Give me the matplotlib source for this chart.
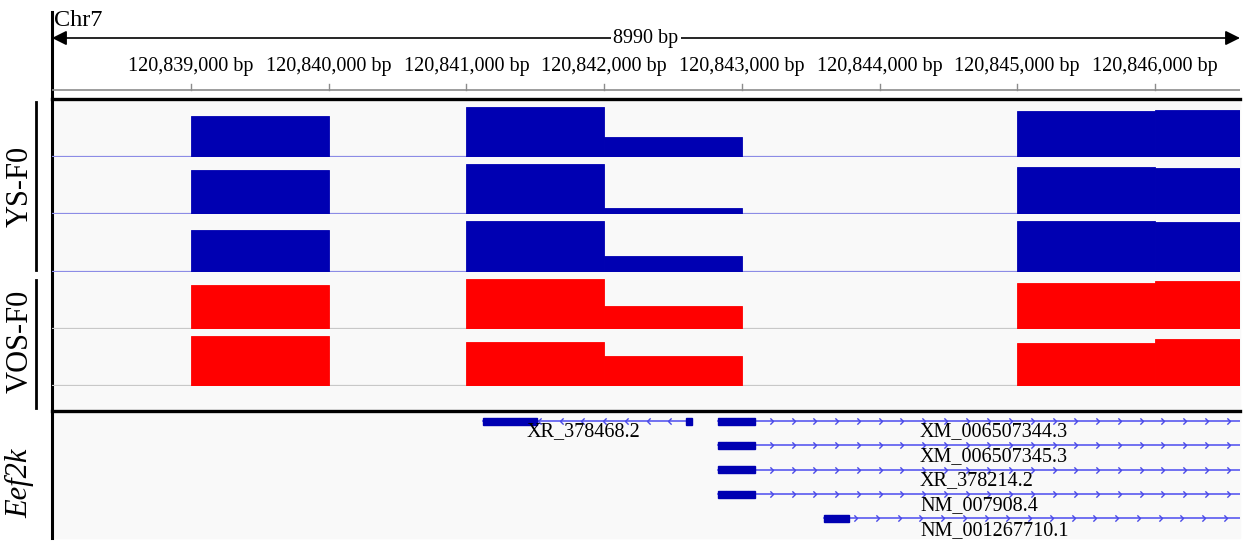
import numpy as np
import matplotlib
matplotlib.use("Agg")
import matplotlib.pyplot as plt
import matplotlib.path as mpath

plt.rcParams['font.family'] = ['Liberation Serif', 'DejaVu Serif']

W, H = 1246, 542

# genomic window (Chr7)
chrom = 'Chr7'
view_start = 120837990
view_end = 120846618
span_label = '8990 bp'
tick_pos = [120839000, 120840000, 120841000, 120842000,
            120843000, 120844000, 120845000, 120846000]
tick_labels = ['120,839,000 bp', '120,840,000 bp', '120,841,000 bp', '120,842,000 bp',
               '120,843,000 bp', '120,844,000 bp', '120,845,000 bp', '120,846,000 bp']

# coverage bins (start, end)
bin_start = [120839000, 120841000, 120842000, 120845000, 120846000]
bin_end = [120840000, 120842000, 120843000, 120846000, 120847000]

# coverage per sample track
ys_1 = [41.6, 50.3, 20.6, 46.3, 47.0]
ys_2 = [44.3, 50.0, 5.6, 47.3, 46.0]
ys_3 = [41.7, 50.0, 15.0, 50.0, 49.4]
vos_1 = [44.0, 49.6, 23.0, 46.0, 47.6]
vos_2 = [50.3, 44.3, 30.0, 43.3, 47.3]
track_max = 57.3

# transcripts: name, strand, exons, label anchor
tx_names = ['XR_378468.2', 'XM_006507344.3', 'XM_006507345.3',
            'XR_378214.2', 'NM_007908.4', 'NM_001267710.1']
tx_strand = ['-', '+', '+', '+', '+', '+']
tx_exons = [
    [(120841123, 120841515), (120842592, 120842636)],
    [(120842829, 120843096)],
    [(120842829, 120843096)],
    [(120842829, 120843096)],
    [(120842829, 120843096)],
    [(120843599, 120843778)],
]
tx_end = [120842636, 120847000, 120847000, 120847000, 120847000, 120847000]
tx_label_x = [120841850, 120844294, 120844294, 120844294, 120844294, 120844294]

BLUE = '#0000b2'
RED = '#ff0000'
BG = '#f9f9f9'

fig = plt.figure(figsize=(W / 100, H / 100), dpi=100)
fig.patch.set_facecolor('white')

X0, X1 = 52, 1240


def px_axes(x0, y0, x1, y1, **kw):
    return fig.add_axes([x0 / W, 1 - y1 / H, (x1 - x0) / W, (y1 - y0) / H], **kw)


# pixel-space layer for frame lines and side labels
deco = px_axes(0, 0, W, H)
deco.set_xlim(0, W)
deco.set_ylim(H, 0)
deco.axis('off')

deco.add_patch(plt.Rectangle((X0, 99), X1 - X0, 311, color=BG, zorder=0))
deco.add_patch(plt.Rectangle((X0, 412), X1 - X0, 126, color=BG, zorder=0))

# header: ruler
hdr = px_axes(X0, 0, X1, 98)
hdr.set_xlim(view_start, view_end)
hdr.set_ylim(98, 0)
hdr.axis('off')
hdr.annotate('', xy=(view_start, 38), xytext=(view_end, 38),
             arrowprops=dict(arrowstyle='<|-|>', color='black', lw=1.2,
                             mutation_scale=22, shrinkA=0, shrinkB=0))
mid = (view_start + view_end) / 2
hdr.text(mid, 38, span_label, ha='center', va='center', fontsize=14.5,
         bbox=dict(facecolor='white', edgecolor='none', pad=1.5))
hdr.axhline(90, color='#8c8c8c', lw=1.2)
for pos, lab in zip(tick_pos, tick_labels):
    hdr.plot([pos, pos], [84, 90], color='#8c8c8c', lw=1)
    hdr.text(pos, 67, lab, ha='center', va='center', fontsize=14.5)

deco.text(54, 20, chrom, ha='left', va='center', fontsize=17.5)

# coverage tracks
tracks = [(ys_1, BLUE, '#8c8ce6', 100, 157),
          (ys_2, BLUE, '#8c8ce6', 157, 214),
          (ys_3, BLUE, '#8c8ce6', 214, 271.5),
          (vos_1, RED, '#c8c8c8', 271.5, 328.5),
          (vos_2, RED, '#c8c8c8', 328.5, 386)]
for vals, col, base_col, top, bottom in tracks:
    tax = px_axes(X0, top, X1, bottom)
    tax.set_xlim(view_start, view_end)
    tax.set_ylim(0, track_max)
    tax.axis('off')
    widths = np.array(bin_end) - np.array(bin_start)
    tax.bar(bin_start, vals, width=widths, align='edge', color=col,
            edgecolor=col, linewidth=0.6, zorder=2)
    tax.axhline(0, color=base_col, lw=1.6, zorder=1)

# gene track
gax = px_axes(X0, 412, X1, 538)
gax.set_xlim(view_start, view_end)
gax.set_ylim(538, 412)
gax.axis('off')

fwd = mpath.Path([(-1, 1), (0, 0), (-1, -1)], [1, 2, 2])
rev = mpath.Path([(1, 1), (0, 0), (1, -1)], [1, 2, 2])
row_y = [421, 421, 445, 469.5, 494, 518]
label_y = [432, 432, 457, 481, 506, 531]
step = 158
for name, strand, exons, end, lx, y, ly in zip(tx_names, tx_strand, tx_exons,
                                               tx_end, tx_label_x, row_y, label_y):
    start = exons[0][0]
    gax.plot([start, end], [y, y], color='#5a5af0', lw=1.2, zorder=1)
    marker = fwd if strand == '+' else rev
    ax_pts = np.arange(start + 80, min(end, view_end) - 20, step)
    gax.plot(ax_pts, np.full_like(ax_pts, y, dtype=float), ls='none',
             marker=marker, ms=4.5, mfc='none', mec='#4a4ae8', mew=1.0, zorder=2)
    for e0, e1 in exons:
        gax.add_patch(plt.Rectangle((e0, y - 3.5), e1 - e0, 7, color=BLUE, zorder=3))
    gax.text(lx, ly, name, ha='left' if strand == '+' else 'center',
             va='center', fontsize=14.5, zorder=4)

# frame lines
deco.plot([X0, X0], [12, 538], color='black', lw=2.2, zorder=5)
deco.plot([X0, X1], [98.5, 98.5], color='black', lw=2.4, zorder=5)
deco.plot([X0, X1], [411, 411], color='black', lw=2.4, zorder=5)

# sample group labels
deco.plot([36, 36], [102, 270], color='black', lw=2)
deco.plot([36, 36], [280, 408], color='black', lw=2)
deco.text(20, 186, 'YS-F0', rotation=90, ha='center', va='center', fontsize=22)
deco.text(20, 341, 'VOS-F0', rotation=90, ha='center', va='center', fontsize=22)
deco.text(20, 483, 'Eef2k', rotation=90, ha='center', va='center', fontsize=22,
          style='italic')

fig.savefig('out.png', dpi=100, facecolor='white')
